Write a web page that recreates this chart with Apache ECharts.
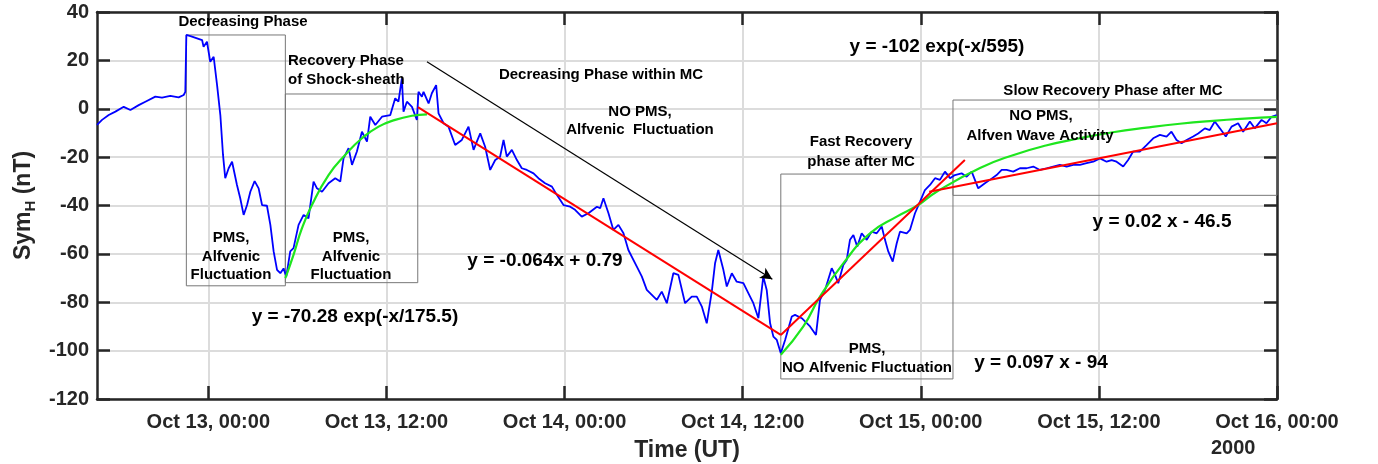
<!DOCTYPE html>
<html>
<head>
<meta charset="utf-8">
<script src="https://cdn.jsdelivr.net/npm/echarts@6/dist/echarts.min.js"></script>
<style>
  html, body { margin: 0; padding: 0; background: #fff; }
  #chart { width: 1378px; height: 464px; }
</style>
</head>
<body>
<div id="chart"></div>
<script>
  // hours counted from 2000-10-13 00:00 UT
  const symHours = [
    -7.50, -7.16, -6.71, -6.26, -5.70, -5.25, -4.69, -4.24, -3.57, -3.12, -2.56, -2.00, -1.66, -1.55,
    -1.48, -1.10, -0.76, -0.42, -0.32, -0.09, 0.13, 0.36, 0.59, 0.81, 0.99, 1.14, 1.37, 1.60, 1.93,
    2.15, 2.38, 2.61, 2.83, 3.12, 3.39, 3.62, 3.95, 4.18, 4.40, 4.63, 4.85, 5.07, 5.25, 5.52, 5.74,
    6.08, 6.42, 6.75, 7.09, 7.32, 7.66, 8.10, 8.55, 8.89, 9.11, 9.45, 9.68, 10.01, 10.35, 10.69, 10.91,
    11.25, 11.70, 12.26, 12.59, 12.81, 13.04, 13.15, 13.38, 13.72, 14.05, 14.16, 14.39,
    14.50, 14.84, 15.06, 15.35, 15.51, 15.85, 16.18, 16.63, 17.08, 17.53, 17.87, 18.09, 18.32, 18.65,
    18.99, 19.33, 19.66, 19.89, 20.11, 20.45, 20.79, 21.12, 21.46, 21.91, 22.24, 22.69, 23.15, 23.48,
    23.93, 24.38, 24.71, 25.16, 25.61, 26.18, 26.40, 26.62, 26.96, 27.29, 27.63, 27.97, 28.30, 28.87,
    29.21, 29.54, 30.22, 30.55, 30.89, 31.33, 31.67, 32.12, 32.57, 32.91, 33.25, 33.58, 33.92, 34.14,
    34.36, 34.70, 34.93, 35.27, 35.60, 36.05, 36.39, 36.72, 37.06, 37.39, 37.62, 37.85, 38.07, 38.30, 38.57,
    38.86, 39.31, 39.53, 39.98, 40.54, 40.94, 41.21, 41.55, 42.00, 42.22, 42.44, 42.78, 43.01, 43.23,
    43.46, 43.72, 44.02, 44.36, 44.69, 45.03, 45.37, 45.59, 45.81, 46.11, 46.38, 46.60, 47.05, 47.27,
    47.61, 47.95, 48.28, 48.62, 48.96, 49.29, 49.63, 49.97, 50.30, 50.75, 51.09, 51.43,
    51.87, 52.32, 52.66, 53.11, 53.45, 53.78, 54.23, 54.68, 55.13, 55.58, 56.03, 56.48, 56.92, 57.37,
    57.83, 58.27, 58.72, 59.17, 59.62, 60.07, 60.52, 60.86, 61.19, 61.64, 61.97, 62.31, 62.76, 63.21,
    63.66, 64.11, 64.56, 64.89, 65.23, 65.57, 65.91, 66.35, 66.69, 67.14, 67.47, 67.81, 68.15, 68.55,
    68.94, 69.38, 69.72, 70.17, 70.50, 70.96, 71.29, 71.63, 71.97
  ]
  const symValues = [
    -6.7, -4.6, -2.6, -1.2, 0.8, -0.5, 1.5, 2.9, 5.0, 4.6, 5.3, 4.7, 5.7, 7.0,
    30.5, 29.8, 29.1, 28.4, 25.6, 27.7, 19.4, 21.5, 9.8, -2.6, -19.1, -28.7, -24.6, -21.9, -31.5,
    -37, -43.9, -39.8, -34.3, -29.9, -32.9, -39.8, -40.1, -48, -59, -66.6, -68, -66, -69.4, -59, -57.6,
    -48, -43.9, -45.3, -30.1, -32.9, -34.3, -30.8, -28.7, -30.1, -20.5, -16.3, -23.2, -17.7, -9.5, -13.6, -3.3,
    -6.7, -3.3, -2.6, 4.3, 2.9, 12.6, -1.2, 2.9, 0.8, -4.6, 7, 5,
    7, 2.2, 6.4, 9.8, -1.9, -6, -7.4, -15, -12.9, -7.4, -17, -13.6, -10.2, -15.7,
    -25.3, -21.2, -19.8, -12.9, -19.8, -17, -21.2, -24.6, -25.3, -26.7, -28.7, -30.8, -32.2, -35.6,
    -39.8, -40.5, -41.8, -44.6, -43.2, -40.5, -41.1, -37, -43.2, -50.1, -48, -51.5, -58.4, -65.3,
    -69.4, -74.9, -79, -75.6, -80.4, -68, -68.7, -80.4, -77.7, -77.7, -81.8, -88.7, -75.6, -63.9,
    -58.4, -66.6, -73.5, -68, -71.5, -72.1, -76.3, -80.4, -86.6, -69.4, -74.9, -88.7, -94.2, -95.6, -101.1,
    -95.6, -85.9, -85.2, -86.6, -90, -93.5, -79, -74.9, -65.9, -68.7, -72.1, -64.6, -62.5, -54.2,
    -52.2, -57, -51.5, -54.2, -50.8, -51.5, -48.7, -54.2, -59, -63.2, -55.6, -50.8, -51.5, -50.1,
    -43.2, -38.4, -33.6, -31.5, -28.7, -29.4, -26, -28.7, -27.4, -26.7, -28.1, -26,
    -32.9, -30.8, -29.4, -27.4, -25.3, -25.3, -26, -24.6, -24.6, -23.9, -25.3, -24.6, -23.9, -23.2,
    -23.9, -23.2, -23.2, -22.5, -21.9, -20.5, -21.9, -21.2, -21.9, -23.9, -21.2, -17.7, -17.7, -15,
    -12.2, -10.8, -11.5, -9.5, -12.9, -14.3, -12.9, -11.5, -10.2, -8.1, -8.8, -5.3, -8.1, -11.5,
    -7.4, -6, -9.5, -5.3, -8.1, -4.6, -6, -3.3, -2.6
  ]

  // fitted curves
  const expFit1Hours = [5.19, 5.74, 6.31, 6.98, 8.10, 9.22, 10.35, 11.47, 12.59, 13.72, 14.73]
  const expFit1Values = [-70, -60.4, -49.4, -39.8, -27.4, -19.1, -12.2, -7.4, -4.6, -2.9, -2.3]
  const expFit2Hours = [38.57, 40.09, 41.21, 42.78, 44.58, 46.38, 47.83, 49.07, 51.99, 54.21, 56.43, 58.72, 60.95, 63.21, 65.45, 67.68, 69.83, 72.0]
  const expFit2Values = [-101.7, -90, -77.7, -63.9, -51.5, -44.6, -39.8, -34.3, -24.5, -19.2, -15.2, -12.2, -9.7, -7.8, -6.2, -5.0, -4.1, -3.4]
  const linFit1Hours = [14.12, 38.57]
  const linFit1Values = [0.7, -93.5]
  const linFit2Hours = [38.57, 50.97]
  const linFit2Values = [-93.5, -21.2]
  const linFit3Hours = [48.57, 72.0]
  const linFit3Values = [-34.3, -6.0]

  const arrowHours = [14.73, 38.0]
  const arrowValues = [19.4, -70.5]

  // phase boxes: [h1, v1, h2, v2]
  const phaseBoxes = [
    [-1.48, 30.5, 5.19, -73.2],
    [5.19, 6.1, 14.11, -71.9],
    [38.57, -27, 50.17, -111.7],
    [50.17, 3.6, 72.0, -35.8]
  ]

  const tickHours = [0, 12, 24, 36, 48, 60, 72]
  const tickLabels = ['Oct 13, 00:00', 'Oct 13, 12:00', 'Oct 14, 00:00', 'Oct 14, 12:00', 'Oct 15, 00:00', 'Oct 15, 12:00', 'Oct 16, 00:00']

  const zip = (xs, ys) => xs.map((x, i) => [x, ys[i]])

  const FONT = '"Liberation Sans", Arial, Helvetica, sans-serif'
  const AXIS_COLOR = '#262626'

  const txt = (text, x, y, size, align) => ({
    type: 'text',
    x,
    y,
    z: 100,
    silent: true,
    style: {
      text,
      fill: '#000',
      font: `bold ${size}px ${FONT}`,
      align: align || 'center',
      verticalAlign: 'middle'
    }
  })

  const chart = echarts.init(document.getElementById('chart'))

  const xBase = {
    type: 'value',
    min: -7.5,
    max: 72,
    axisLine: { onZero: false, lineStyle: { color: AXIS_COLOR, width: 2.5 } },
    axisTick: { inside: true, length: 13, customValues: tickHours, lineStyle: { color: AXIS_COLOR, width: 2.5 } },
    splitLine: { show: false }
  }
  const yBase = {
    type: 'value',
    min: -120,
    max: 40,
    interval: 20,
    axisLine: { show: true, onZero: false, lineStyle: { color: AXIS_COLOR, width: 2.5 } },
    axisTick: { show: true, inside: true, length: 13, lineStyle: { color: AXIS_COLOR, width: 2.5 } },
    splitLine: { show: false }
  }

  chart.setOption({
    animation: false,
    grid: { left: 97, right: 101, top: 12, bottom: 65, outerBoundsMode: 'none' },
    xAxis: [
      {
        ...xBase,
        position: 'bottom',
        name: 'Time (UT)',
        nameLocation: 'middle',
        nameGap: 40,
        nameTextStyle: { color: AXIS_COLOR, fontFamily: FONT, fontWeight: 'bold', fontSize: 23 },
        axisLabel: {
          customValues: tickHours,
          margin: 13,
          color: AXIS_COLOR,
          fontFamily: FONT,
          fontWeight: 'bold',
          fontSize: 20,
          formatter: (v) => tickLabels[tickHours.indexOf(v)] || ''
        },
        splitLine: { show: true, lineStyle: { color: '#dcdcdc', width: 2 } }
      },
      { ...xBase, position: 'top', axisLabel: { show: false } }
    ],
    yAxis: [
      {
        ...yBase,
        position: 'left',
        name: '{a|Sym}{b|H}{a| (nT)}',
        nameLocation: 'middle',
        nameGap: 59,
        nameTextStyle: {
          rich: {
            a: { color: AXIS_COLOR, fontFamily: FONT, fontWeight: 'bold', fontSize: 23, lineHeight: 28 },
            b: { color: AXIS_COLOR, fontFamily: FONT, fontWeight: 'bold', fontSize: 15, verticalAlign: 'bottom' }
          }
        },
        axisLabel: { margin: 8, color: AXIS_COLOR, fontFamily: FONT, fontWeight: 'bold', fontSize: 20 },
        splitLine: { show: true, lineStyle: { color: '#dcdcdc', width: 2 } }
      },
      { ...yBase, position: 'right', axisLabel: { show: false } }
    ],
    series: [
      {
        name: 'SymH',
        type: 'line',
        data: zip(symHours, symValues),
        showSymbol: false,
        lineStyle: { color: '#0000ff', width: 1.8 },
        z: 3,
        markArea: {
          silent: true,
          itemStyle: { color: 'rgba(0,0,0,0)', borderColor: '#777', borderWidth: 1 },
          data: phaseBoxes.map((b) => [{ coord: [b[0], b[1]] }, { coord: [b[2], b[3]] }])
        },
        markLine: {
          silent: true,
          symbol: ['none', 'arrow'],
          symbolSize: [9, 12],
          label: { show: false },
          lineStyle: { color: '#000', width: 1.2, type: 'solid' },
          data: [[{ coord: [arrowHours[0], arrowValues[0]] }, { coord: [arrowHours[1], arrowValues[1]] }]]
        }
      },
      {
        type: 'line', data: zip(expFit1Hours, expFit1Values), smooth: true, showSymbol: false, z: 4,
        lineStyle: { color: '#1ee61e', width: 2.2 }
      },
      {
        type: 'line', data: zip(expFit2Hours, expFit2Values), smooth: true, showSymbol: false, z: 4,
        lineStyle: { color: '#1ee61e', width: 2.2 }
      },
      { type: 'line', data: zip(linFit1Hours, linFit1Values), showSymbol: false, z: 5, lineStyle: { color: '#ff0000', width: 2 } },
      { type: 'line', data: zip(linFit2Hours, linFit2Values), showSymbol: false, z: 5, lineStyle: { color: '#ff0000', width: 2 } },
      { type: 'line', data: zip(linFit3Hours, linFit3Values), showSymbol: false, z: 5, lineStyle: { color: '#ff0000', width: 2 } }
    ],
    graphic: [
      txt('Decreasing Phase', 243, 22, 15),
      txt('Recovery Phase', 288, 61, 15, 'left'),
      txt('of Shock-sheath', 288, 80, 15, 'left'),
      txt('PMS,', 231, 238, 15),
      txt('Alfvenic', 231, 257, 15),
      txt('Fluctuation', 231, 275, 15),
      txt('PMS,', 351, 238, 15),
      txt('Alfvenic', 351, 257, 15),
      txt('Fluctuation', 351, 275, 15),
      txt('y = -70.28 exp(-x/175.5)', 355, 317, 19),
      txt('Decreasing Phase within MC', 601, 75, 15),
      txt('NO PMS,', 640, 112, 15),
      txt('Alfvenic  Fluctuation', 640, 130, 15),
      txt('y = -0.064x + 0.79', 545, 261, 19),
      txt('y = -102 exp(-x/595)', 937, 47, 19),
      txt('Fast Recovery', 861, 142, 15),
      txt('phase after MC', 861, 162, 15),
      txt('PMS,', 867, 349, 15),
      txt('NO Alfvenic Fluctuation', 867, 368, 15),
      txt('Slow Recovery Phase after MC', 1113, 91, 15),
      txt('NO PMS,', 1041, 116, 15),
      txt('Alfven Wave Activity', 1040, 136, 15),
      txt('y = 0.02 x - 46.5', 1162, 222, 19),
      txt('y = 0.097 x - 94', 1041, 363, 19),
      {
        type: 'text', x: 1211, y: 448, silent: true,
        style: { text: '2000', fill: AXIS_COLOR, font: `bold 20px ${FONT}`, align: 'left', verticalAlign: 'middle' }
      }
    ]
  })

  window.addEventListener('resize', () => chart.resize())
</script>
</body>
</html>
